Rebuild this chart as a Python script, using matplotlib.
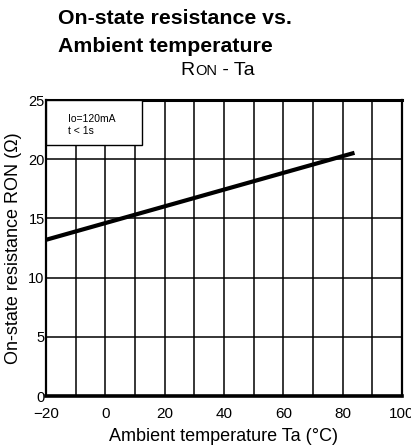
import matplotlib
matplotlib.use("Agg")
import matplotlib.pyplot as plt

plt.rcParams['font.family'] = ['Liberation Sans', 'DejaVu Sans']

# data
ta = [-20, 84]
ron = [13.2, 20.55]
xticks = [-20, 0, 20, 40, 60, 80, 100]
yticks = [0, 5, 10, 15, 20, 25]

fig = plt.figure(figsize=(4.11, 4.45), dpi=100)
ax = fig.add_axes([0.112, 0.110, 0.866, 0.665])
ax.set_xlim(-20, 100)
ax.set_ylim(0, 25)

# grid every 10 degC and 5 ohm
for x in range(-10, 100, 10):
    ax.axvline(x, color='black', lw=1.1, zorder=1)
for y in range(5, 25, 5):
    ax.axhline(y, color='black', lw=1.1, zorder=1)

ax.plot(ta, ron, color='black', lw=3, solid_capstyle='butt', zorder=3)

ax.set_xticks(xticks)
ax.set_xticklabels(['\u221220'] + [str(v) for v in xticks[1:]])
ax.set_yticks(yticks)
ax.tick_params(length=0)
ax.tick_params(axis='x', pad=8, labelsize=11)
ax.tick_params(axis='y', pad=1, labelsize=10.5)
for lbl in ax.get_xticklabels():
    lbl.set_clip_on(False)

ax.spines['top'].set_linewidth(2.2)
ax.spines['bottom'].set_linewidth(2.6)
ax.spines['left'].set_linewidth(1.6)
ax.spines['right'].set_linewidth(1.6)

ax.set_xlabel('Ambient temperature Ta (\u00b0C)', fontsize=13, labelpad=5)
ax.set_ylabel('On-state resistance RON (\u03a9)', fontsize=13)
ax.yaxis.set_label_coords(-0.068, 0.5)

# condition box in the corner
ax.add_patch(plt.Rectangle((-20, 21.2), 32.4, 3.8, facecolor='white',
                           edgecolor='black', lw=1.0, zorder=4))
ax.text(-12.6, 23.4, 'Io=120mA', fontsize=7.5, va='center', zorder=5)
ax.text(-12.6, 22.4, 't < 1s', fontsize=7.5, va='center', zorder=5)

fig.text(0.141, 0.958, 'On-state resistance vs.', fontsize=15.3, fontweight='bold', va='center')
fig.text(0.141, 0.895, 'Ambient temperature', fontsize=15.3, fontweight='bold', va='center')

# R with small-caps ON subtitle
base_y = 0.832
t1 = fig.text(0.440, base_y, 'R', fontsize=14, va='baseline')
fig.canvas.draw()
x2 = t1.get_window_extent().x1 / fig.bbox.width
t2 = fig.text(x2, base_y, 'ON', fontsize=10.5, va='baseline')
fig.canvas.draw()
x3 = t2.get_window_extent().x1 / fig.bbox.width
fig.text(x3, base_y, ' - Ta', fontsize=14, va='baseline')

fig.savefig('out.png', dpi=100)
